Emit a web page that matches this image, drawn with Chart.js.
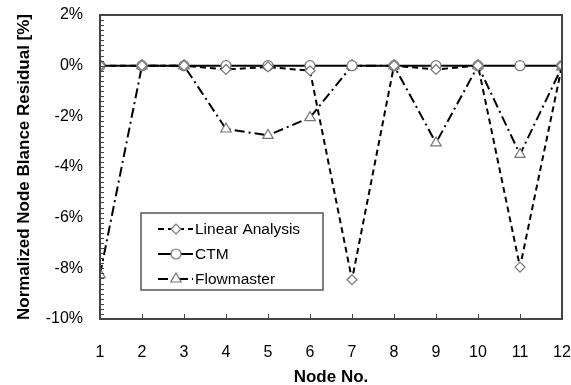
<!DOCTYPE html>
<html>
<head>
<meta charset="utf-8">
<script src="https://cdn.jsdelivr.net/npm/chart.js@4"></script>
<style>
  html, body { margin: 0; padding: 0; background: #fff; }
  #wrap { width: 571px; height: 385px; }
</style>
</head>
<body>
<div id="wrap"><canvas id="chart" width="571" height="385"></canvas></div>
<script>
// values, in %
const nodes = [1, 2, 3, 4, 5, 6, 7, 8, 9, 10, 11, 12];
const linearAnalysis = [0, 0, 0, -0.15, -0.05, -0.2, -8.45, 0, -0.15, 0, -7.95, 0];
const ctm = [0, 0, 0, 0, 0, 0, 0, 0, 0, 0, 0, 0];
const flowmaster = [-8.25, 0, 0, -2.5, -2.75, -2.05, 0, 0, -3.05, 0, -3.5, -0.05];
const yTicks = [-10, -8, -6, -4, -2, 0, 2];

const FONT = 'Liberation Sans, Arial, sans-serif';
const markerColor = '#777';

function toPoints(vals) {
    return nodes.map((n, i) => ({ x: n, y: vals[i] }));
}

function series(label, vals, dash, style, radius) {
    return {
        label,
        data: toPoints(vals),
        borderColor: '#000',
        borderWidth: 2,
        borderDash: dash,
        pointStyle: style,
        pointRadius: radius,
        pointBorderColor: markerColor,
        pointBackgroundColor: '#fff',
        pointBorderWidth: 1.2,
        tension: 0
    };
}

// frame, inner ticks and the boxed legend
const decorations = {
    id: 'decorations',
    afterDatasetsDraw(chart) {
        const { ctx, chartArea: a, scales: { x, y } } = chart;
        ctx.save();
        ctx.strokeStyle = '#444';
        ctx.lineWidth = 1;
        for (let v = -10; v <= 2.001; v += 0.2) {
            const py = Math.round(y.getPixelForValue(v)) + 0.5;
            ctx.beginPath();
            ctx.moveTo(a.left, py);
            ctx.lineTo(a.left + 4, py);
            ctx.stroke();
        }
        nodes.forEach(n => {
            const px = Math.round(x.getPixelForValue(n)) + 0.5;
            ctx.beginPath();
            ctx.moveTo(px, a.bottom);
            ctx.lineTo(px, a.bottom - 5);
            ctx.stroke();
        });
        ctx.lineWidth = 2;
        ctx.strokeStyle = '#444';
        ctx.strokeRect(a.left, a.top, a.right - a.left, a.bottom - a.top);

        // legend box
        const bx = 141, by = 213, bw = 182, bh = 77;
        ctx.fillStyle = '#fff';
        ctx.fillRect(bx, by, bw, bh);
        ctx.lineWidth = 1.5;
        ctx.strokeStyle = '#555';
        ctx.strokeRect(bx, by, bw, bh);
        const rows = [229, 254, 279];
        chart.data.datasets.forEach((ds, i) => {
            const ry = rows[i];
            ctx.strokeStyle = '#000';
            ctx.lineWidth = 2;
            ctx.setLineDash(ds.borderDash || []);
            ctx.beginPath();
            ctx.moveTo(158, ry);
            ctx.lineTo(193, ry);
            ctx.stroke();
            ctx.setLineDash([]);
            ctx.fillStyle = '#fff';
            ctx.strokeStyle = markerColor;
            ctx.lineWidth = 1.2;
            Chart.helpers.drawPoint(ctx, { pointStyle: ds.pointStyle, radius: ds.pointRadius, borderWidth: 1.2 }, 176, ry);
            ctx.fillStyle = '#000';
            ctx.font = '15.5px ' + FONT;
            ctx.textBaseline = 'middle';
            ctx.textAlign = 'left';
            ctx.fillText(ds.label, 195, ry + 1);
        });
        ctx.restore();
    }
};

new Chart(document.getElementById('chart'), {
    type: 'line',
    data: {
        datasets: [
            series('Linear Analysis', linearAnalysis, [6, 4], 'rectRot', 5),
            series('CTM', ctm, [], 'circle', 5),
            series('Flowmaster', flowmaster, [10, 4, 2, 4], 'triangle', 6)
        ]
    },
    options: {
        responsive: false,
        animation: false,
        layout: { padding: { top: 15, right: 9, left: 0, bottom: 0 } },
        plugins: {
            legend: { display: false },
            tooltip: { enabled: false }
        },
        scales: {
            x: {
                type: 'linear',
                min: 1,
                max: 12,
                afterFit: s => {
                    s.height = 66;
                    s.paddingLeft = 0;
                    s.paddingRight = 0;
                },
                afterBuildTicks: s => { s.ticks = nodes.map(v => ({ value: v })); },
                grid: { display: false, drawTicks: false },
                border: { display: false },
                ticks: { color: '#000', padding: 24, font: { family: FONT, size: 16 } },
                title: {
                    display: true,
                    text: 'Node No.',
                    color: '#000',
                    padding: 0,
                    font: { family: FONT, size: 17, weight: 'bold', lineHeight: 0.9 }
                }
            },
            y: {
                min: -10,
                max: 2,
                afterFit: s => {
                    s.width = 100;
                    s.paddingTop = 0;
                    s.paddingBottom = 0;
                },
                afterBuildTicks: s => { s.ticks = yTicks.map(v => ({ value: v })); },
                grid: { display: false, drawTicks: false },
                border: { display: false },
                ticks: {
                    color: '#000',
                    padding: 17,
                    font: { family: FONT, size: 16 },
                    callback: v => v + '%'
                },
                title: {
                    display: true,
                    text: 'Normalized Node Blance Residual [%]',
                    color: '#000',
                    padding: { top: 16, bottom: 0 },
                    font: { family: FONT, size: 17, weight: 'bold', lineHeight: 1 }
                }
            }
        }
    },
    plugins: [decorations]
});
</script>
</body>
</html>
